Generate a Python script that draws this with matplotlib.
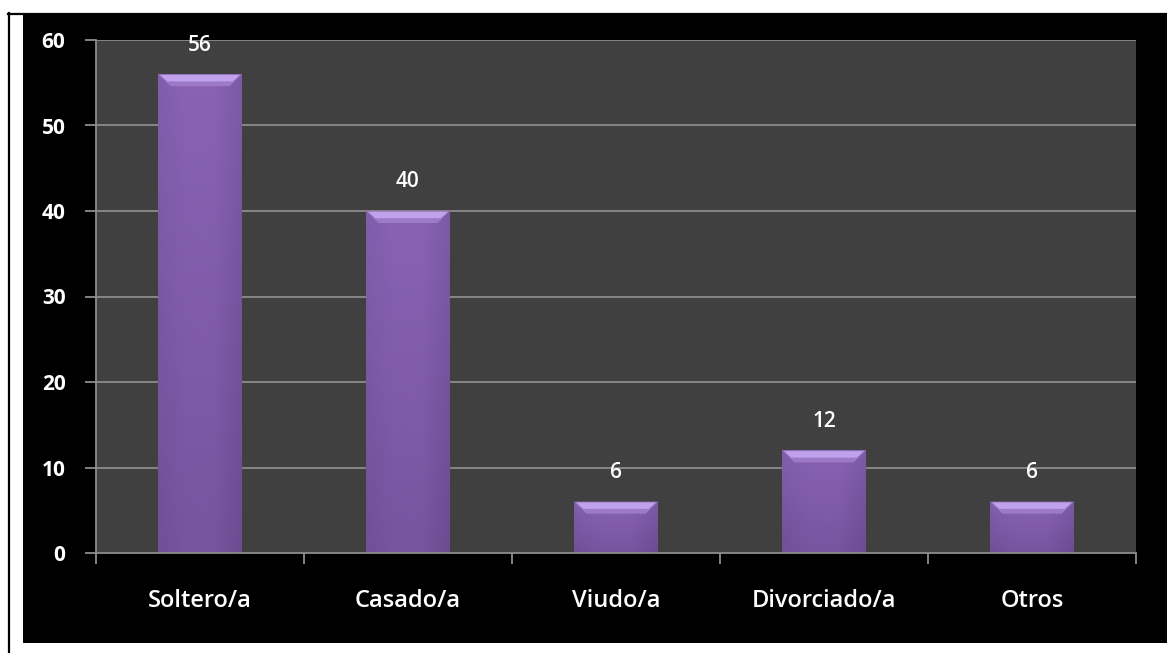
import numpy as np
import matplotlib
matplotlib.use("Agg")
import matplotlib.pyplot as plt
from matplotlib.patches import Rectangle, Polygon
from matplotlib.lines import Line2D
from matplotlib.colors import LinearSegmentedColormap

categories = ["Soltero/a", "Casado/a", "Viudo/a", "Divorciado/a", "Otros"]
values = [56, 40, 6, 12, 6]
y_ticks = [0, 10, 20, 30, 40, 50, 60]

W, H = 1167, 653
fig = plt.figure(figsize=(W / 100, H / 100), dpi=100, facecolor="white")

# black chart frame and the thin table border around it
fig.patches.append(Rectangle((23 / W, (H - 643) / H), (W - 23) / W, (643 - 13) / H,
                             transform=fig.transFigure, facecolor="black",
                             edgecolor="none", zorder=-1))
fig.lines.append(Line2D([8.5 / W, 8.5 / W], [0, (H - 13) / H], transform=fig.transFigure,
                        color="black", lw=1.6, zorder=-1))
fig.lines.append(Line2D([8 / W, 1], [(H - 13.5) / H, (H - 13.5) / H], transform=fig.transFigure,
                        color="black", lw=1.6, zorder=-1))

ax = fig.add_axes([96 / W, (H - 553) / H, 1040 / W, 513 / H])
ax.set_facecolor("#404040")

grid_col = "#8c8c8c"
for t in y_ticks[1:]:
    ax.axhline(t, color=grid_col, lw=1.3, zorder=1)
for s in ["top", "right"]:
    ax.spines[s].set_visible(False)
for s in ["left", "bottom"]:
    ax.spines[s].set_color(grid_col)
    ax.spines[s].set_linewidth(1.3)

ax.set_yticks(y_ticks)
ax.set_yticklabels([str(t) for t in y_ticks], fontfamily="Open Sans",
                   fontweight="bold", fontsize=15, color="white")
ax.set_xticks(np.arange(len(categories) + 1))
ax.set_xticklabels([])
ax.set_xticks(np.arange(len(categories)) + 0.5, minor=True)
ax.set_xticklabels(categories, minor=True, fontfamily="Open Sans", fontsize=17,
                   fontweight="semibold", color="white")
ax.tick_params(axis="y", length=8, width=1.3, color=grid_col, pad=14)
ax.tick_params(axis="x", which="major", length=8, width=1.3, color=grid_col)
ax.tick_params(axis="x", which="minor", length=0, pad=26)

cmap = LinearSegmentedColormap.from_list("bar", ["#6a4a8e", "#8a63b5"])
edge_cmap = LinearSegmentedColormap.from_list("edge", ["#7a58a4", "#8a63b5", "#8a63b5", "#6f4f96"])
bw = 0.4
px_x = 1040 / len(categories)   # pixels per category unit
px_y = 513 / 60                 # pixels per value unit
bev_x = 12 / px_x
bev_y = 12 / px_y

bars = ax.bar(np.arange(len(categories)) + 0.5, values, width=bw,
              color="#7c58a6", edgecolor="none", zorder=2)
for b, v in zip(bars, values):
    x0, x1 = b.get_x(), b.get_x() + b.get_width()
    # vertical shading of the bar body
    grad = np.linspace(0, 1, 256).reshape(-1, 1)
    im = ax.imshow(grad, extent=(x0, x1, 0, v), origin="lower", cmap=cmap,
                   aspect="auto", zorder=2.1)
    im.set_clip_path(b)
    # side shading
    hgrad = np.linspace(0, 1, 256).reshape(1, -1)
    im2 = ax.imshow(hgrad, extent=(x0, x1, 0, v), origin="lower", cmap=edge_cmap,
                    aspect="auto", zorder=2.2, alpha=0.45)
    im2.set_clip_path(b)
    # bevelled top
    ax.add_patch(Polygon([(x0, v), (x1, v), (x1 - bev_x, v - bev_y), (x0 + bev_x, v - bev_y)],
                         closed=True, facecolor="#9c7ac8", edgecolor="none", zorder=2.3))
    ax.add_patch(Polygon([(x0 + bev_x * 0.15, v - 0.1), (x1 - bev_x * 0.15, v - 0.1),
                          (x1 - bev_x * 0.75, v - bev_y * 0.6), (x0 + bev_x * 0.75, v - bev_y * 0.6)],
                         closed=True, facecolor="#c0a2ea", edgecolor="none", zorder=2.4))
    ax.annotate(str(v), (b.get_x() + bw / 2, v), xytext=(0, 17), textcoords="offset points",
                ha="center", va="baseline", fontfamily="Open Sans", fontsize=15,
                fontweight="semibold", color="white", zorder=5)

ax.set_xlim(0, len(categories))
ax.set_ylim(0, 60)
fig.savefig("out.png", dpi=100, facecolor="white")
